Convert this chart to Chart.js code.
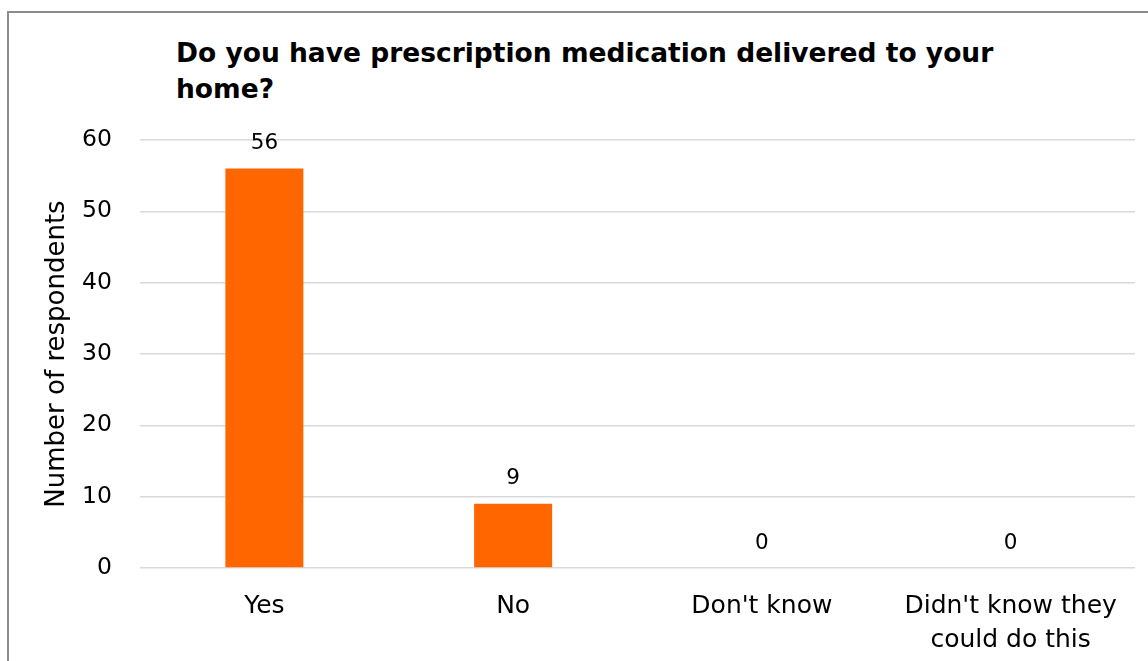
<!DOCTYPE html>
<html lang="en">
<head>
  <meta charset="UTF-8" />
  <title>Prescription delivery</title>
  <script src="https://cdn.jsdelivr.net/npm/chart.js"></script>
  <style>
    body {
      margin: 0;
      background: #fff;
      font-family: "DejaVu Sans", sans-serif;
      overflow: hidden;
    }
    .frame {
      position: absolute;
      left: 7px;
      top: 11px;
      width: 1200px;
      height: 700px;
      border: 2px solid #8c8c8c;
    }
    .chart-title {
      position: absolute;
      left: 176px;
      top: 35px;
      width: 900px;
      font-size: 26.5px;
      font-weight: bold;
      line-height: 36px;
      color: #000;
    }
    .chart-box {
      position: absolute;
      left: 0;
      top: 0;
      width: 1148px;
      height: 661px;
    }
  </style>
</head>
<body>
  <div class="frame"></div>
  <div class="chart-title">Do you have prescription medication delivered to your<br>home?</div>
  <div class="chart-box"><canvas id="deliveryChart"></canvas></div>

  <script>
    const categories = ['Yes', 'No', "Don't know", ["Didn't know they", 'could do this']];
    const respondents = [56, 9, 0, 0];
    const yTicks = [0, 10, 20, 30, 40, 50, 60];

    const FONT = '"DejaVu Sans", sans-serif';

    // value labels above each bar
    const valueLabels = {
      id: 'valueLabels',
      afterDatasetsDraw(chart) {
        const ctx = chart.ctx;
        const meta = chart.getDatasetMeta(0);
        ctx.save();
        ctx.font = '21.5px ' + FONT;
        ctx.fillStyle = '#000';
        ctx.textAlign = 'center';
        ctx.textBaseline = 'middle';
        meta.data.forEach((bar, i) => {
          ctx.fillText(String(respondents[i]), bar.x, bar.y - 25);
        });
        ctx.restore();
      }
    };

    new Chart(document.getElementById('deliveryChart'), {
      type: 'bar',
      data: {
        labels: categories,
        datasets: [{
          data: respondents,
          backgroundColor: '#ff6600',
          borderWidth: 0,
          categoryPercentage: 1,
          barPercentage: 0.3136
        }]
      },
      options: {
        responsive: true,
        maintainAspectRatio: false,
        animation: false,
        layout: { padding: { top: 140, right: 13, bottom: 0, left: 32 } },
        plugins: {
          legend: { display: false },
          tooltip: { enabled: false }
        },
        scales: {
          x: {
            afterFit: axis => { axis.height = 93; },
            grid: { display: false },
            border: { display: false },
            ticks: {
              color: '#000',
              font: { family: FONT, size: 25, lineHeight: 1.36 },
              padding: 13,
              maxRotation: 0
            }
          },
          y: {
            min: 0,
            max: 60,
            afterFit: axis => { axis.width = 108; },
            afterBuildTicks: axis => { axis.ticks = yTicks.map(v => ({ value: v })); },
            grid: { color: '#d9d9d9', lineWidth: 1.5, drawTicks: false },
            border: { display: false },
            ticks: {
              color: '#000',
              font: { family: FONT, size: 23.5 },
              padding: 28
            },
            title: {
              display: true,
              text: 'Number of respondents',
              color: '#000',
              font: { family: FONT, size: 26 },
              padding: { top: 10, bottom: 0 }
            }
          }
        }
      },
      plugins: [valueLabels]
    });
  </script>
</body>
</html>
